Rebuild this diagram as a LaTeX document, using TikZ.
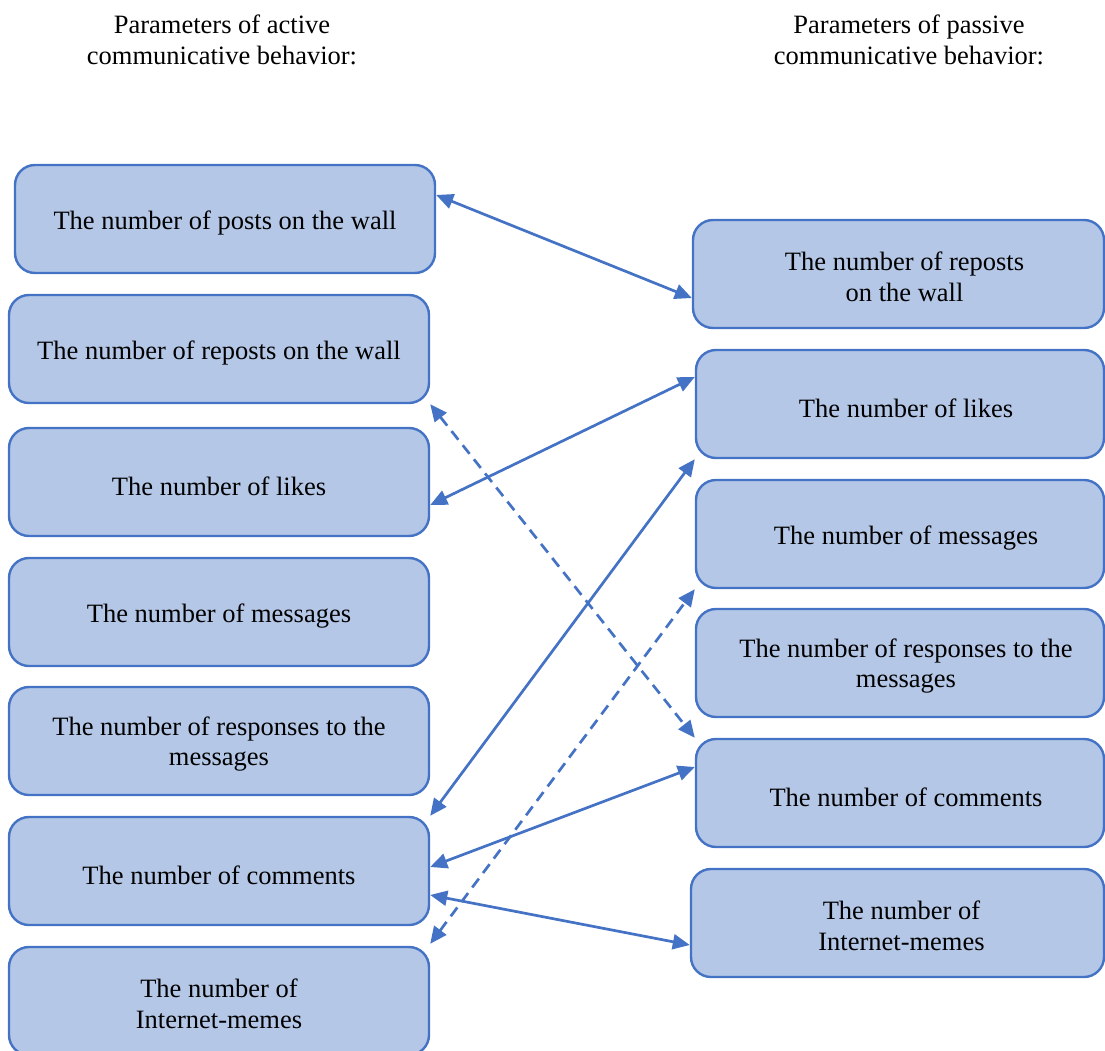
\documentclass[tikz,border=0pt]{standalone}
\usepackage{fontspec}
\setmainfont{Liberation Serif}
\usetikzlibrary{arrows.meta}
\definecolor{boxfill}{HTML}{B4C7E7}
\definecolor{boxline}{HTML}{4472C4}
\begin{document}
\begin{tikzpicture}[x=1pt,y=-1pt,
  box/.style={draw=boxline,fill=boxfill,line width=2.4pt,rounded corners=20pt,
    minimum height=108pt,inner sep=0pt},
  lbox/.style={box,minimum width=420pt},
  rbox/.style={box,minimum width=408pt},
  txt/.style={align=center,inner sep=0pt,font=\fontsize{26.5}{30.5}\selectfont},
  hdr/.style={align=center,font=\fontsize{26.5}{31}\selectfont},
  link/.style={draw=boxline,line width=2.7pt,{Triangle[length=17pt,width=15pt]}-{Triangle[length=17pt,width=15pt]}},
  dlink/.style={link,dash pattern=on 11pt off 7pt}]
\useasboundingbox (0,0) rectangle (1105,1051);
\node[hdr] (h1) at (222,40) {Parameters of active\\communicative behavior:};
\node[hdr] (h2) at (909,40) {Parameters of passive\\communicative behavior:};
\node[lbox] (L1) at (225,219) {};
\node[lbox] (L2) at (219,349) {};
\node[lbox] (L3) at (219,482) {};
\node[lbox] (L4) at (219,612) {};
\node[lbox] (L5) at (219,741) {};
\node[lbox] (L6) at (219,871) {};
\node[lbox] (L7) at (219,1001) {};
\node[rbox,minimum width=411pt] (R1) at (898.5,274) {};
\node[rbox] (R2) at (900,404) {};
\node[rbox] (R3) at (900,534) {};
\node[rbox] (R4) at (900,663) {};
\node[rbox] (R5) at (900,793) {};
\node[rbox,minimum width=413pt] (R6) at (897.5,923) {};
\node[txt] (tL1) at ([yshift=-4pt]L1.center) {The number of posts on the wall};
\node[txt] (tL2) at ([yshift=-4pt]L2.center) {The number of reposts on the wall};
\node[txt] (tL3) at ([yshift=-4pt]L3.center) {The number of likes};
\node[txt] (tL4) at ([yshift=-4pt]L4.center) {The number of messages};
\node[txt] (tL5) at ([yshift=-3pt]L5.center) {The number of responses to the\\messages};
\node[txt] (tL6) at ([yshift=-4pt]L6.center) {The number of comments};
\node[txt] (tL7) at ([yshift=-3pt]L7.center) {The number of\\Internet-memes};
\node[txt] (tR1) at ([xshift=6pt,yshift=-3pt]R1.center) {The number of reposts\\on the wall};
\node[txt] (tR2) at ([xshift=6pt,yshift=-4pt]R2.center) {The number of likes};
\node[txt] (tR3) at ([xshift=6pt,yshift=-4pt]R3.center) {The number of messages};
\node[txt] (tR4) at ([xshift=6pt,yshift=-3pt]R4.center) {The number of responses to the\\messages};
\node[txt] (tR5) at ([xshift=6pt,yshift=-4pt]R5.center) {The number of comments};
\node[txt] (tR6) at ([xshift=4pt,yshift=-3pt]R6.center) {The number of\\Internet-memes};
\draw[link] ([yshift=24pt]L1.east) -- ([yshift=-24pt]R1.west);
\draw[dlink] (L2.south east) -- (R5.north west);
\draw[link] ([yshift=-23pt]L3.east) -- ([yshift=27pt]R2.west);
\draw[link] (L6.north east) -- (R2.south west);
\draw[dlink] ([yshift=2pt]L7.north east) -- (R3.south west);
\draw[link] ([yshift=4pt]L6.east) -- ([yshift=26pt]R5.west);
\draw[link] ([yshift=-24pt]L6.east) -- ([yshift=-22pt]R6.west);
\end{tikzpicture}
\end{document}
